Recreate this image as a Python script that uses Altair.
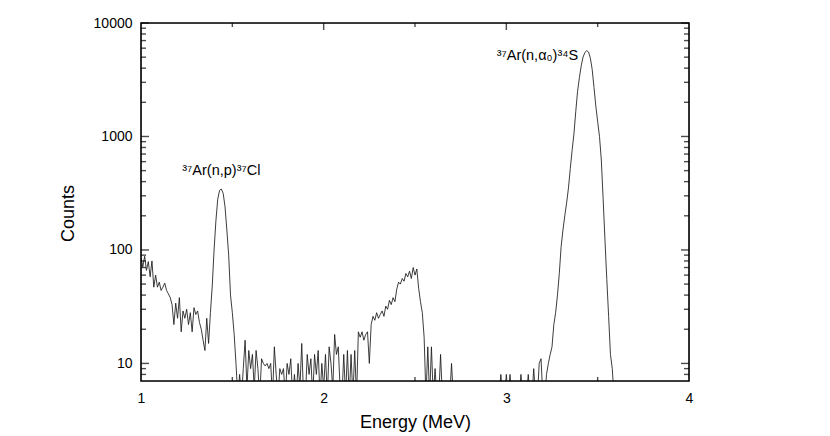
import altair as alt
import pandas as pd

# Channel energies (MeV)
energy = [
    1.00, 1.01, 1.02, 1.03, 1.04, 1.05, 1.06, 1.07, 1.08, 1.09,
    1.10, 1.11, 1.12, 1.13, 1.14, 1.15, 1.16, 1.17, 1.18, 1.19,
    1.20, 1.21, 1.22, 1.23, 1.24, 1.25, 1.26, 1.27, 1.28, 1.29,
    1.30, 1.31, 1.32, 1.33, 1.34, 1.35, 1.36, 1.37, 1.38, 1.39,
    1.40, 1.41, 1.42, 1.43, 1.44, 1.45, 1.46, 1.47, 1.48, 1.49,
    1.50, 1.51, 1.52, 1.53, 1.54, 1.55, 1.56, 1.57, 1.58, 1.59,
    1.60, 1.61, 1.62, 1.63, 1.64, 1.65, 1.66, 1.67, 1.68, 1.69,
    1.70, 1.71, 1.72, 1.73, 1.74, 1.75, 1.76, 1.77, 1.78, 1.79,
    1.80, 1.81, 1.82, 1.83, 1.84, 1.85, 1.86, 1.87, 1.88, 1.89,
    1.90, 1.91, 1.92, 1.93, 1.94, 1.95, 1.96, 1.97, 1.98, 1.99,
    2.00, 2.01, 2.02, 2.03, 2.04, 2.05, 2.06, 2.07, 2.08, 2.09,
    2.10, 2.11, 2.12, 2.13, 2.14, 2.15, 2.16, 2.17, 2.18, 2.19,
    2.20, 2.21, 2.22, 2.23, 2.24, 2.25, 2.26, 2.27, 2.28, 2.29,
    2.30, 2.31, 2.32, 2.33, 2.34, 2.35, 2.36, 2.37, 2.38, 2.39,
    2.40, 2.41, 2.42, 2.43, 2.44, 2.45, 2.46, 2.47, 2.48, 2.49,
    2.50, 2.51, 2.52, 2.53, 2.54, 2.55, 2.56, 2.57, 2.58, 2.59,
    2.60, 2.61, 2.62, 2.63, 2.64, 2.65, 2.66, 2.67, 2.68, 2.69,
    2.70, 2.71, 2.72, 2.73, 2.74, 2.75, 2.76, 2.77, 2.78, 2.79,
    2.80, 2.81, 2.82, 2.83, 2.84, 2.85, 2.86, 2.87, 2.88, 2.89,
    2.90, 2.91, 2.92, 2.93, 2.94, 2.95, 2.96, 2.97, 2.98, 2.99,
    3.00, 3.01, 3.02, 3.03, 3.04, 3.05, 3.06, 3.07, 3.08, 3.09,
    3.10, 3.11, 3.12, 3.13, 3.14, 3.15, 3.16, 3.17, 3.18, 3.19,
    3.20, 3.21, 3.22, 3.23, 3.24, 3.25, 3.26, 3.27, 3.28, 3.29,
    3.30, 3.31, 3.32, 3.33, 3.34, 3.35, 3.36, 3.37, 3.38, 3.39,
    3.40, 3.41, 3.42, 3.43, 3.44, 3.45, 3.46, 3.47, 3.48, 3.49,
    3.50, 3.51, 3.52, 3.53, 3.54, 3.55, 3.56, 3.57, 3.58, 3.59,
    3.60,
]

# Counts per channel (values below the axis floor are drawn clipped)
counts = [
    85, 71, 88, 66, 79, 58, 80, 47, 60, 47,
    52, 44, 47, 51, 44, 41, 38, 33, 22, 34,
    25, 38, 19, 29, 25, 30, 22, 28, 19, 31,
    27, 29, 23, 20, 16, 13, 25, 15, 28, 48,
    100, 180, 280, 335, 344, 315, 240, 150, 90, 40,
    28, 18, 10, 5, 8, 5, 9, 16, 6, 13,
    9, 12, 6, 13, 9, 5, 11, 10, 9.5, 10,
    9, 10, 5, 14, 8, 5, 9, 8, 9, 5,
    10, 8, 11, 5, 8, 5, 10, 6, 15, 5,
    5, 12, 8, 11, 5, 12, 8, 13, 5, 10,
    6, 12, 5, 14, 10, 6, 18, 12, 14, 6,
    5, 12, 5, 13, 5, 12, 5, 13, 5, 19,
    17, 19, 16, 18, 19, 10, 22, 26, 24, 28,
    25, 27, 29, 26, 32, 30, 36, 33, 38, 35,
    45, 52, 50, 56, 53, 62, 58, 65, 56, 70,
    60, 68, 46, 35, 28, 17, 5, 14, 5, 14,
    5, 9, 5, 5, 12, 5, 5, 5, 5, 5,
    10, 5, 5, 5, 5, 5, 5, 5, 5, 5,
    5, 5, 5, 5, 5, 5, 5, 5, 5, 5,
    5, 5, 5, 5, 5, 5, 5, 8, 5, 5,
    8, 5, 8, 5, 5, 5, 5, 5, 8, 5,
    5, 5, 8, 5, 5, 9, 5, 5, 10, 11,
    5, 5, 8, 10, 12, 14, 22, 28, 40, 62,
    107, 150, 200, 260, 350, 520, 750, 1050, 1650, 2500,
    3300, 4200, 5000, 5500, 5700, 5550, 4900, 3900, 2700, 1850,
    1350, 1000, 620, 280, 122, 55, 26, 12, 9, 5,
    5,
]

# Axis labels / ticks
x_labels = [1, 2, 3, 4]
y_labels = [10, 100, 1000, 10000]
x_major_top = [2, 3]
x_minor = [1.5, 2.5, 3.5]
y_minor = [8, 9, 20, 30, 40, 50, 60, 70, 80, 90,
           200, 300, 400, 500, 600, 700, 800, 900,
           2000, 3000, 4000, 5000, 6000, 7000, 8000, 9000]
x_range = [1, 4]
y_range = [7, 10000]

# Peak annotations
ann_text = ["³⁷Ar(n,p)³⁷Cl", "³⁷Ar(n,α₀)³⁴S"]
ann_x = [1.44, 3.17]
ann_y = [500, 5150]

W, H = 548, 358
FONT = "Liberation Sans"

xscale = alt.Scale(domain=x_range, nice=False, zero=False)
yscale = alt.Scale(type="log", domain=y_range, nice=False)

df = pd.DataFrame({"energy": energy, "counts": counts})

xaxis = alt.Axis(values=x_labels, format="d", ticks=False, tickSize=0, domain=False,
                 grid=False, labelPadding=10, labelFontSize=14, labelFont=FONT,
                 labelColor="black", labelFlush=False,
                 title="Energy (MeV)", titleFont=FONT, titleFontSize=18,
                 titleFontWeight="normal", titleColor="black",
                 titleX=W / 2, titleY=41, titleAlign="center", titleBaseline="middle")
yaxis = alt.Axis(values=y_labels, format="d", ticks=False, tickSize=0, domain=False,
                 grid=False, labelPadding=9, labelFontSize=14, labelFont=FONT,
                 labelColor="black", labelFlush=False,
                 title="Counts", titleFont=FONT, titleFontSize=18,
                 titleFontWeight="normal", titleColor="black", titleAngle=270,
                 titleX=-73, titleY=190, titleAlign="center", titleBaseline="middle")


def X(field):
    return alt.X(field, scale=xscale, axis=xaxis)


def Y(field):
    return alt.Y(field, scale=yscale, axis=yaxis)


def XD(v):
    return alt.XDatum(v, type="quantitative", scale=xscale, axis=xaxis)


def YD(v):
    return alt.YDatum(v, type="quantitative", scale=yscale, axis=yaxis)


line = alt.Chart(df).mark_line(clip=True, color="#1a1a1a", strokeWidth=0.85).encode(
    x=X("energy:Q"), y=Y("counts:Q"),
)

ann = alt.Chart(pd.DataFrame({"t": ann_text, "x": ann_x, "y": ann_y})).mark_text(
    font=FONT, fontSize=14.5, color="black", align="center", baseline="middle"
).encode(x=X("x:Q"), y=Y("y:Q"), text="t:N")

frame = alt.Chart(pd.DataFrame({"a": [0]})).mark_rect(
    fill=None, filled=False, stroke="black", strokeWidth=1.6
).encode(
    x=XD(x_range[0]), x2=alt.X2Datum(x_range[1]),
    y=YD(y_range[0]), y2=alt.Y2Datum(y_range[1]),
)


def ytick(vals, at, length, off):
    return alt.Chart(pd.DataFrame({"v": vals})).mark_tick(
        orient="horizontal", size=length, thickness=1.4, color="black", xOffset=off
    ).encode(x=XD(at), y=Y("v:Q"))


def xtick(vals, at, length, off):
    return alt.Chart(pd.DataFrame({"v": vals})).mark_tick(
        orient="vertical", size=length, thickness=1.4, color="black", yOffset=off
    ).encode(x=X("v:Q"), y=YD(at))


ticks = [
    ytick(y_labels, x_range[0], 8, 4), ytick(y_minor, x_range[0], 5, 2.5),
    ytick(y_labels, x_range[1], 8, -4), ytick(y_minor, x_range[1], 5, -2.5),
    xtick(x_major_top, y_range[1], 7, 3.5), xtick(x_minor, y_range[1], 4, 2),
    xtick(x_minor, y_range[0], 4, -2),
]

chart = alt.layer(line, ann, frame, *ticks).properties(
    width=W, height=H,
    autosize=alt.AutoSizeParams(type="none"),
    padding={"left": 133, "top": 15, "right": 20, "bottom": 55},
).configure_view(stroke=None).configure(background="white")

chart.save("out.html", embed_options={"renderer": "svg", "actions": False})
